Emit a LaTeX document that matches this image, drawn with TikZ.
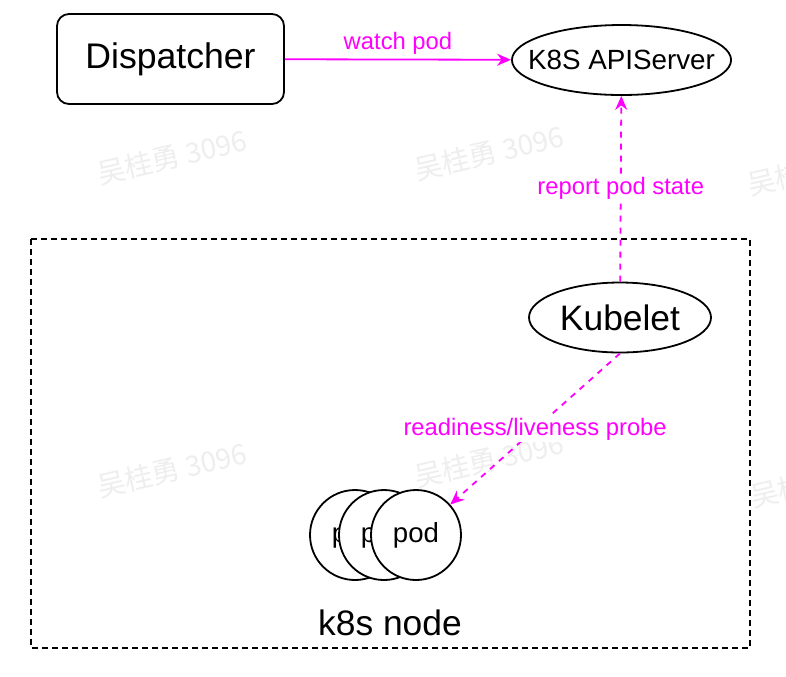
\documentclass[tikz,border=0pt]{standalone}
\usepackage{fontspec}
\setmainfont{Liberation Sans}
\newfontfamily\cjk{Noto Sans CJK SC}
\usetikzlibrary{shapes.geometric,arrows.meta,positioning}

\definecolor{pink}{RGB}{255,0,255}
\definecolor{wm}{RGB}{238,238,238}

\tikzstyle{proc} = [rectangle, rounded corners=6pt, minimum width=113.5pt, minimum height=45pt, text centered, draw=black, line width=0.9pt, fill=white, font=\fontsize{17.8}{20}\selectfont]
\tikzstyle{srv} = [ellipse, inner xsep=-8pt, inner ysep=0pt, minimum width=109.5pt, minimum height=35pt, draw=black, line width=0.9pt, fill=white, font=\fontsize{13.9}{16}\selectfont]
\tikzstyle{agent} = [ellipse, inner sep=0pt, minimum width=91pt, minimum height=35pt, draw=black, line width=0.9pt, fill=white, font=\fontsize{17.7}{20}\selectfont]
\tikzstyle{podc} = [circle, inner sep=0pt, minimum size=45pt, draw=black, line width=0.9pt, fill=white, font=\fontsize{13.8}{16}\selectfont]
\tikzstyle{lbl} = [text=pink, fill=white, inner sep=1pt, font=\fontsize{11.9}{14}\selectfont]
\tikzstyle{wmark} = [text=wm, rotate=13, font=\cjk\fontsize{14}{16}\selectfont]

\begin{document}
\begin{tikzpicture}[x=0.5pt,y=-0.5pt,node distance=14.5pt,>={Stealth[length=7pt,width=6pt]}]
\useasboundingbox (0,0) rectangle (786,676);
\fill[white] (0,0) rectangle (786,676);

    % watermarks
    \node[wmark] (w1) at (172,157) {吴桂勇 3096};
    \node[wmark] (w2) at (489,153) {吴桂勇 3096};
    \node[wmark] (w3) at (822,168) {吴桂勇 3096};
    \node[wmark] (w4) at (172,470) {吴桂勇 3096};
    \node[wmark] (w5) at (489,460) {吴桂勇 3096};
    \node[wmark] (w6) at (825,480) {吴桂勇 3096};

    % k8s node frame
    \draw[dashed, dash pattern=on 3pt off 2pt, line width=0.7pt] (31,239) rectangle (750,648);
    \node[font=\fontsize{17.7}{20}\selectfont] (N) at (390,623) {k8s node};

    \node[proc] (D) at (170.5,59) {Dispatcher};
    \node[srv] (A) at (621.5,60) {K8S APIServer};
    \node[agent] (K) at (620,317.5) {Kubelet};

    \node[podc] (P1) at (355,535) {pod};
    \node[podc] (P2) [right of=P1] {pod};
    \node[podc] (P3) [right of=P2, xshift=1.5pt] {pod};

    \draw[->, pink, line width=0.9pt] (D) -- node[lbl, fill=none, above=1pt] {watch pod} (A);
    \draw[->, pink, line width=0.9pt, dash pattern=on 3pt off 3pt] (K) -- node[lbl] {report pod state} (A);
    \draw[->, pink, line width=0.9pt, dash pattern=on 3pt off 3pt] (K.south) -- node[lbl] {readiness/liveness probe} (P3);

\end{tikzpicture}
\end{document}
